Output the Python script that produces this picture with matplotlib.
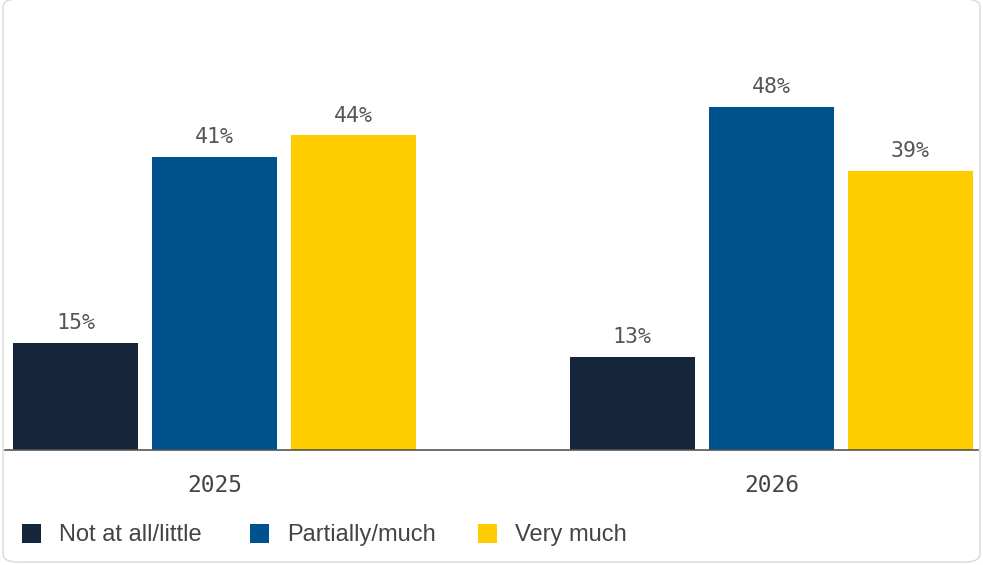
#!/usr/bin/env python3
"""Grouped bar chart: share of answers per year (2025 vs 2026)."""

import matplotlib
matplotlib.use("Agg")
import matplotlib.pyplot as plt
from matplotlib.patches import FancyBboxPatch, Rectangle
import numpy as np


years = ["2025", "2026"]
series = ["Not at all/little", "Partially/much", "Very much"]
not_at_all = [15, 13]
partially = [41, 48]
very_much = [44, 39]

COLORS = ["#15263a", "#00528f", "#ffcc00"]
W, H = 983, 565


def main():
    fig = plt.figure(figsize=(W / 100, H / 100), dpi=100)
    # axes placed in pixel terms: baseline at y=450, spans x 5..978
    ax = fig.add_axes([5 / W, (H - 450) / H, 973 / W, 450 / H])

    x = np.arange(len(years))
    width, step = 0.2244, 0.2496
    values = [not_at_all, partially, very_much]
    for i, (vals, color) in enumerate(zip(values, COLORS)):
        pos = x + (i - 1) * step
        bars = ax.bar(pos, vals, width=width, color=color, zorder=2)
        for b, v in zip(bars, vals):
            ax.annotate(f"{v}%", (b.get_x() + b.get_width() / 2, v),
                        xytext=(0, 7), textcoords="offset points",
                        ha="center", va="bottom", fontsize=15.5,
                        family="DejaVu Sans Mono", color="#555555")

    ax.set_xlim(-0.376, 1.371)
    ax.set_ylim(0, 450 / 7.15)
    ax.set_xticks(x)
    ax.set_xticklabels(years, family="DejaVu Sans Mono", fontsize=16.5,
                       color="#444444")
    ax.tick_params(axis="x", length=0, pad=17)
    ax.set_yticks([])
    for side in ("top", "right", "left"):
        ax.spines[side].set_visible(False)
    ax.spines["bottom"].set_color("#555555")
    ax.spines["bottom"].set_linewidth(1.2)

    # legend drawn by hand to hit the reference layout
    sq = 19
    for name, color, px in zip(series, COLORS, (22, 250, 478)):
        fig.patches.append(Rectangle((px / W, (H - 543) / H), sq / W, sq / H,
                                     transform=fig.transFigure,
                                     facecolor=color, edgecolor="none"))
        fig.text((px + 37) / W, (H - 535) / H, name, fontsize=17,
                 family="Liberation Sans", color="#444444", va="center")

    fig.patches.append(FancyBboxPatch((3 / W, 3 / H), (W - 6) / W, (H - 2) / H,
                                      boxstyle="round,pad=0,rounding_size=0.015",
                                      transform=fig.transFigure,
                                      facecolor="none", edgecolor="#d8d8d8",
                                      linewidth=1))

    fig.savefig("out.png", dpi=100)
    plt.close(fig)


if __name__ == "__main__":
    main()
